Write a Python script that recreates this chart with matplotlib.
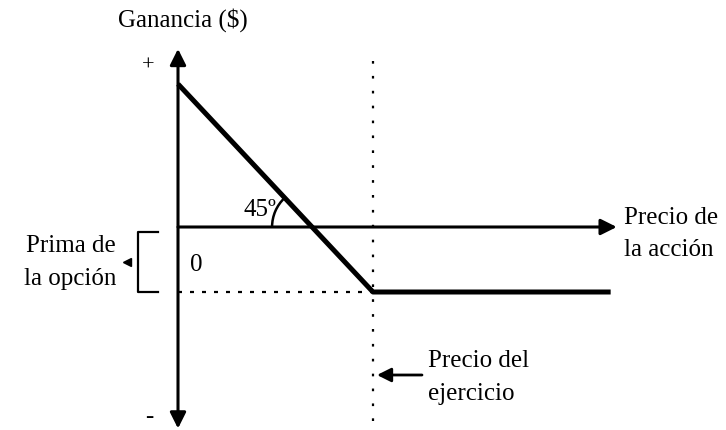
import matplotlib
matplotlib.use("Agg")
import matplotlib.pyplot as plt
from matplotlib.patches import Arc

plt.rcParams['font.family'] = ['Liberation Serif', 'DejaVu Serif']

# payoff of a bought put (option premium paid)
strike = 16
premium = 5
prices = [0, strike, 35.5]
profit = [max(strike - s, 0) - premium for s in prices]

y_axis_top = 13.7
y_axis_bottom = -15.5
x_axis_end = 36.0

fig = plt.figure(figsize=(7.26, 4.31), dpi=100)
ax = fig.add_axes([0, 0, 1, 1])
sx = 195 / strike   # pixels per unit, x
sy = 65 / premium   # pixels per unit, y
ax.set_xlim(-178 / sx, (726 - 178) / sx)
ax.set_ylim((228 - 431) / sy, 228 / sy)
ax.axis('off')

# overlay in pixel coordinates for labels
ov = fig.add_axes([0, 0, 1, 1])
ov.set_xlim(0, 726)
ov.set_ylim(431, 0)
ov.axis('off')

head = dict(arrowstyle='-|>,head_length=0.6,head_width=0.3', color='black',
            lw=2.2, shrinkA=0, shrinkB=0, mutation_scale=16)
head2 = dict(arrowstyle='<|-|>,head_length=0.6,head_width=0.3', color='black',
             lw=2.2, shrinkA=0, shrinkB=0, mutation_scale=16)

# axes
ax.annotate('', xy=(0, y_axis_top), xytext=(0, y_axis_bottom), arrowprops=head2)
ax.annotate('', xy=(x_axis_end, 0), xytext=(0, 0), arrowprops=head)

# strike and premium guide lines
ax.plot([strike, strike], [12.8, -15.2], color='black', lw=1.6,
        linestyle=(0, (1.2, 5.5)))
ax.plot([0, strike], [-premium, -premium], color='black', lw=1.6,
        linestyle=(0, (1.8, 3.6)))

# payoff
ax.plot(prices, profit, color='black', lw=3.6, solid_capstyle='butt')

# 45 degree arc
be = strike - premium
ax.add_patch(Arc((be, 0), 2 * 40 / sx, 2 * 40 / sy, theta1=135, theta2=180,
                 color='black', lw=1.8))

fs = 18
ov.text(118, 20, 'Ganancia ($)', fontsize=fs, va='center', ha='left')
ov.text(148, 66, '+', fontsize=fs - 2, va='center', ha='center')
ov.text(149, 417, '-', fontsize=fs, va='center', ha='center')
ov.text(276, 210, '45º', fontsize=fs, va='center', ha='right')
ov.text(196, 265, '0', fontsize=fs, va='center', ha='center')
ov.text(624, 218, 'Precio de', fontsize=fs, va='center', ha='left')
ov.text(624, 250, 'la acción', fontsize=fs, va='center', ha='left')
ov.text(116, 246, 'Prima de', fontsize=fs, va='center', ha='right')
ov.text(116, 279, 'la opción', fontsize=fs, va='center', ha='right')
ov.text(428, 361, 'Precio del', fontsize=fs, va='center', ha='left')
ov.text(428, 394, 'ejercicio', fontsize=fs, va='center', ha='left')

# bracket for the premium
ov.plot([158, 138, 138, 158], [233, 233, 293, 293], color='black', lw=1.6)
ov.plot([127], [263], marker='<', color='black', markersize=6)

# arrow pointing to strike
ov.annotate('', xy=(377, 376), xytext=(422, 376),
            arrowprops=dict(arrowstyle='-|>,head_length=0.6,head_width=0.3',
                            color='black', lw=2, shrinkA=0, shrinkB=0,
                            mutation_scale=14))

fig.savefig('out.png', dpi=100)
